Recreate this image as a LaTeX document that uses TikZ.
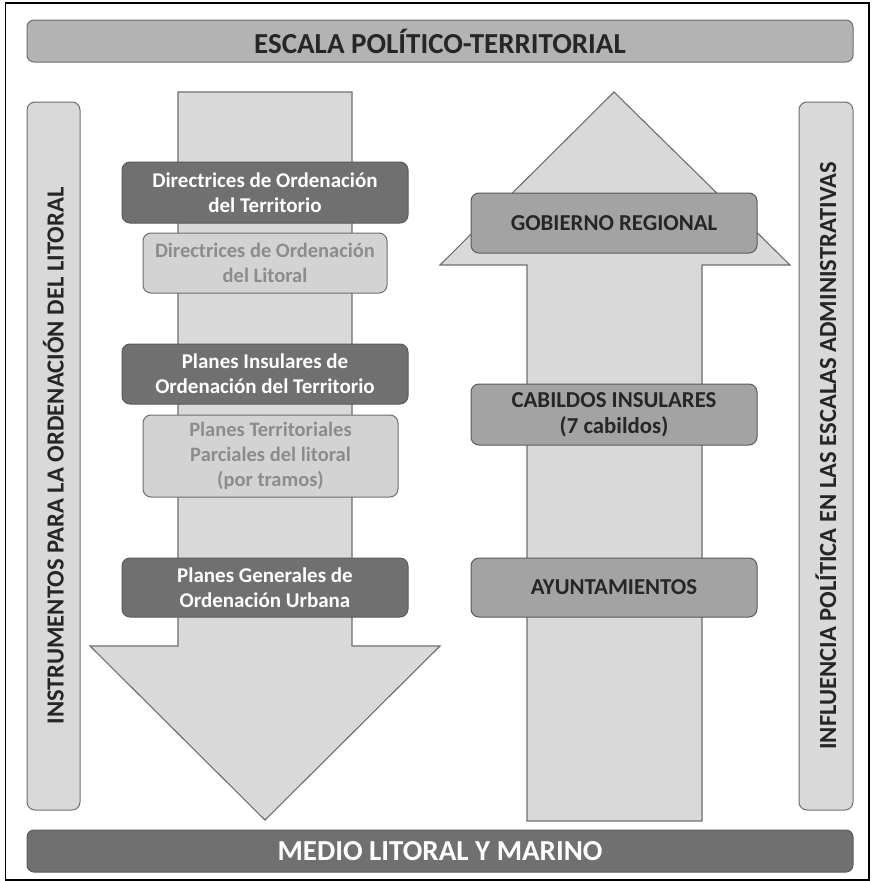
\documentclass[tikz,border=0pt]{standalone}
\usepackage{fontspec}
\setmainfont{Carlito}
\definecolor{arrowfill}{HTML}{D9D9D9}
\definecolor{arrowline}{HTML}{6E6E6E}
\definecolor{darkfill}{HTML}{707070}
\definecolor{darkline}{HTML}{5A5A5A}
\definecolor{lightfill}{HTML}{D3D3D3}
\definecolor{lighttext}{HTML}{8C8C8C}
\definecolor{midfill}{HTML}{A3A3A3}
\definecolor{topfill}{HTML}{B3B3B3}
\definecolor{inktext}{HTML}{262626}
\begin{document}
\begin{tikzpicture}[x=1pt,y=-1pt,
  every node/.style={inner sep=0pt, outer sep=0pt, font=\bfseries},
  bigarrow/.style={fill=arrowfill, draw=arrowline, line width=1.1pt, line join=miter},
  instdark/.style={rounded corners=8pt, fill=darkfill, draw=darkline, line width=1pt,
    text=white, align=center, minimum height=60pt,
    font=\bfseries\fontsize{21}{25}\selectfont},
  instlight/.style={rounded corners=8pt, fill=lightfill, draw=arrowline, line width=1pt,
    text=lighttext, align=center, minimum height=60pt,
    font=\bfseries\fontsize{20.5}{25}\selectfont},
  admin/.style={rounded corners=8pt, fill=midfill, draw=darkline, line width=1pt,
    text=inktext, align=center, minimum width=286pt, minimum height=60pt,
    font=\bfseries\fontsize{22.8}{26}\selectfont},
  sidebar/.style={rounded corners=8pt, fill=arrowfill, draw=arrowline, line width=1pt,
    text=inktext, rotate=90, minimum width=708pt,
    font=\bfseries\fontsize{24.6}{30}\selectfont},
  hbar/.style={rounded corners=7pt, line width=1pt, minimum width=826pt, minimum height=42pt,
    font=\bfseries\fontsize{29}{34}\selectfont}
]
\useasboundingbox (0,0) rectangle (872,881);
\fill[white] (0,0) rectangle (872,881);
% outer frame
\draw[black, line width=1.5pt] (5.5,3) rectangle (869,880);

% headline and base bars
\node[hbar, fill=topfill, draw=arrowline, text=inktext] (escala) at (440,41) {ESCALA POLÍTICO-TERRITORIAL};
\node[hbar, fill=darkfill, draw=darkline, text=white] (medio) at (440,851) {MEDIO LITORAL Y MARINO};

% side bars
\node[sidebar, minimum height=53pt] (instr) at (53.5,456) {INSTRUMENTOS PARA LA ORDENACIÓN DEL LITORAL};
\node[sidebar, minimum height=54pt] (influ) at (826,456) {INFLUENCIA POLÍTICA EN LAS ESCALAS ADMINISTRATIVAS};

% downward arrow: planning instruments
\draw[bigarrow] (178,92) -- (352,92) -- (352,646) -- (440,646) -- (265,820)
  -- (90,646) -- (178,646) -- cycle;
% upward arrow: administrative scales
\draw[bigarrow] (527,821) -- (702,821) -- (702,265) -- (790,265) -- (614,92)
  -- (440,265) -- (527,265) -- cycle;

% planning instruments
\node[instdark, minimum width=286pt, minimum height=61pt] (dot) at (265,192.5)
  {Directrices de Ordenación\\del Territorio};
\node[instlight, minimum width=244pt] (dol) at (265,263)
  {Directrices de Ordenación\\del Litoral};
\node[instdark, minimum width=286pt] (piot) at (265,374)
  {Planes Insulares de\\Ordenación del Territorio};
\node[instlight, minimum width=255pt, minimum height=82pt] (ptp) at (270.5,456)
  {Planes Territoriales\\Parciales del litoral\\(por tramos)};
\node[instdark, minimum width=286pt, minimum height=59pt] (pgou) at (265,587.5)
  {Planes Generales de\\Ordenación Urbana};

% administrative scales
\node[admin] (gob) at (614,223) {GOBIERNO REGIONAL};
\node[admin, minimum height=61pt] (cab) at (614,414.5) {CABILDOS INSULARES\\(7 cabildos)};
\node[admin, minimum height=59pt] (ayu) at (614,587.5) {AYUNTAMIENTOS};
\end{tikzpicture}
\end{document}
